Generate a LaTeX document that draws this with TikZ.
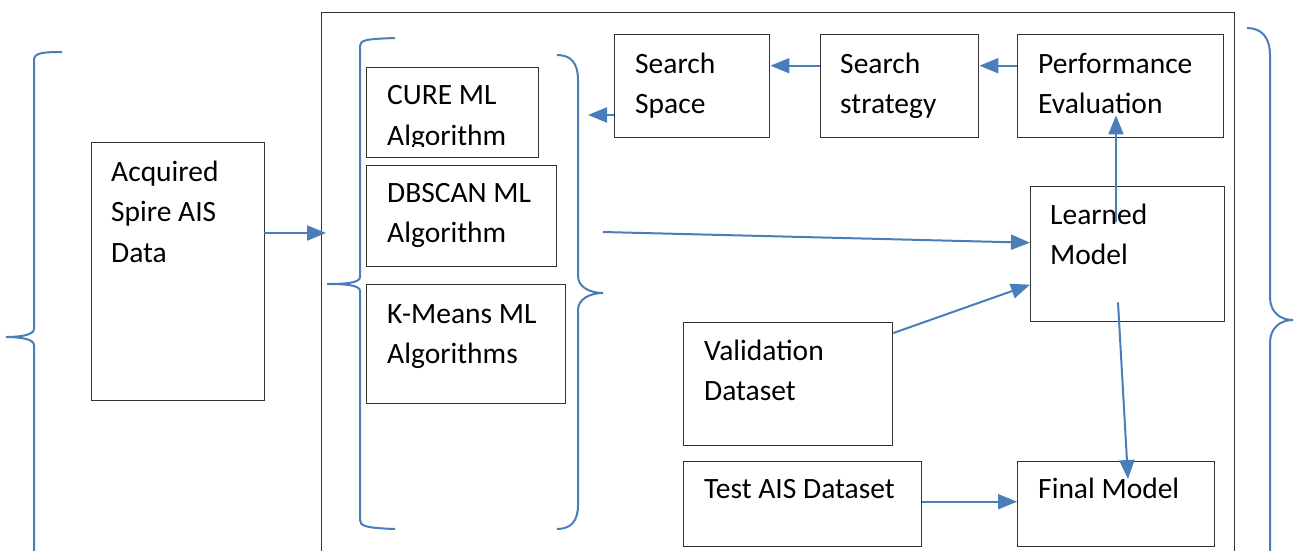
\documentclass[tikz,border=0pt]{standalone}
\usepackage{fontspec}
\setmainfont{Carlito}
\usetikzlibrary{arrows.meta,calc}
\definecolor{bl}{HTML}{4A7EBB}
\definecolor{bx}{HTML}{333333}
\begin{document}
\begin{tikzpicture}[x=1pt,y=-1pt,
  box/.style={draw=bx,line width=1.4pt,rectangle,inner sep=0pt,anchor=north west},
  txt/.style={inner sep=0pt,anchor=base west,align=left,font=\fontsize{29.5}{40.5}\selectfont},
  brace/.style={draw=bl,line width=2pt},
  arr/.style={draw=bl,line width=2pt,-{Triangle[length=19pt,width=15pt]}}]
\useasboundingbox (0,0) rectangle (1298,550);
\clip (0,0) rectangle (1298,550);
% outer frame
\node[box,minimum width=913pt,minimum height=560pt] (frame) at (321,12) {};
% left curly brace
\draw[brace] (62,52) .. controls (42,52) and (34,53) .. (34,60) -- (34,329)
  .. controls (34,335) and (20,337) .. (6,337) .. controls (20,337) and (34,339) .. (34,345) -- (34,560);
\coordinate (lbtip) at (6,337);
% acquired box
\node[box,minimum width=173pt,minimum height=258pt] (acq) at (91,142) {};
\node[txt] (acqt) at (111,262) {Acquired\\Spire AIS\\Data};
% inner left bracket
\draw[brace] (395,38) .. controls (366,39) and (360,40) .. (360,46) -- (360,277)
  .. controls (360,283) and (345,284) .. (327,284) .. controls (345,284) and (360,285) .. (360,291)
  -- (360,520) .. controls (360,526) and (366,528) .. (395,529);
\coordinate (ibin) at (326,233);
% algorithm boxes
\node[box,minimum width=172pt,minimum height=90pt] (cure) at (366,67) {};
\begin{scope}
\clip (366,67) rectangle (538,146);
\node[txt] (curet) at (387,145) {CURE ML\\Algorithm};
\end{scope}
\node[box,minimum width=190pt,minimum height=101pt] (db) at (366,165) {};
\node[txt] (dbt) at (387,242.5) {DBSCAN ML\\Algorithm};
\node[box,minimum width=199pt,minimum height=119pt] (km) at (366,284) {};
\node[txt] (kmt) at (387,363.5) {K-Means ML\\Algorithms};
% right algorithm brace
\draw[brace] (557,55) .. controls (571,55) and (578,63) .. (578,80) -- (578,276)
  .. controls (578,287) and (590,293) .. (603,293) .. controls (590,293) and (578,299) .. (578,310)
  -- (578,505) .. controls (578,521) and (571,529) .. (557,529);
\coordinate (abin) at (588,115);
\coordinate (about) at (603,232);
% top row
\node[box,minimum width=155pt,minimum height=103pt] (ss) at (614,34) {};
\node[txt] (sst) at (635,113.5) {Search\\Space};
\node[box,minimum width=158pt,minimum height=103pt] (st) at (820,34) {};
\node[txt] (stt) at (840,113.5) {Search\\strategy};
\node[box,minimum width=206pt,minimum height=103pt] (pe) at (1017,34) {};
\node[txt] (pet) at (1038,113.5) {Performance\\Evaluation};
% learned model
\node[box,minimum width=194pt,minimum height=135pt] (lm) at (1030,186) {};
\node[txt] (lmt) at (1050,264.5) {Learned\\Model};
% validation
\node[box,minimum width=209pt,minimum height=123pt] (vd) at (683,322) {};
\node[txt] (vdt) at (704,400.5) {Validation\\Dataset};
% test / final
\node[box,minimum width=238pt,minimum height=85pt] (ta) at (683,461) {};
\node[txt] (tat) at (704,498) {Test AIS Dataset};
\node[box,minimum width=197pt,minimum height=85pt] (fm) at (1017,461) {};
\node[txt] (fmt) at (1038,498) {Final Model};
% right big brace
\draw[brace] (1247,28) .. controls (1262,28) and (1270,38) .. (1270,55) -- (1270,297)
  .. controls (1270,312) and (1280,320) .. (1293,320) .. controls (1280,320) and (1270,328) .. (1270,343) -- (1270,560);
% connectors
\draw[arr] ([yshift=38pt]acq.east) -- (acq.east |- ibin) -- (ibin);
\draw[arr] ([yshift=20.5pt]pe.west) -- ([yshift=20.5pt]st.east);
\draw[arr] ([yshift=20.5pt]st.west) -- ([yshift=20.5pt]ss.east);
\draw[arr] (ss.west |- abin) -- (abin);
\draw[arr] (about) -- ([yshift=11.5pt]lm.west);
\draw[arr] ([yshift=-11pt]vd.north east) -- ([yshift=-30.5pt]lm.west);
\draw[arr] ([xshift=86pt,yshift=-36pt]lm.north west) -- ([xshift=99pt,yshift=23pt]pe.south west);
\draw[arr] ([xshift=88pt,yshift=20pt]lm.south west) -- ([xshift=111pt,yshift=-18pt]fm.north west);
\draw[arr] ([yshift=2.5pt]ta.east) -- ([yshift=2.5pt]fm.west);
\end{tikzpicture}
\end{document}
